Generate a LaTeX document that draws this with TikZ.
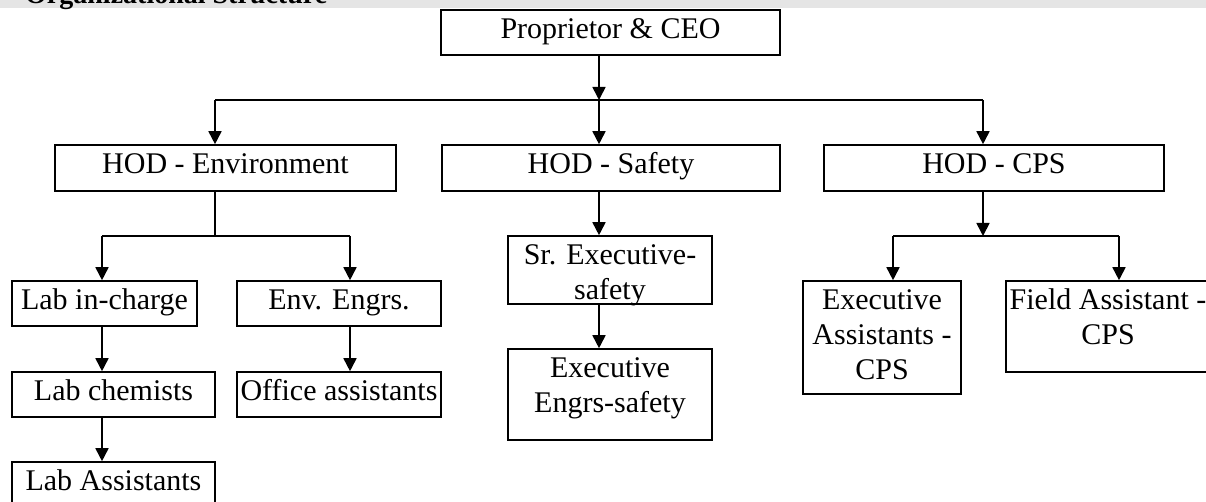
\documentclass[tikz,border=0pt]{standalone}
\usepackage{fontspec}
\setmainfont{Liberation Serif}
\usetikzlibrary{arrows.meta}
\newcommand\stacked[1]{\begin{tabular}[t]{@{}c@{}}#1\end{tabular}}
\begin{document}
\begin{tikzpicture}[x=1pt,y=-1pt,
  font=\fontsize{30}{35}\selectfont,
  box/.style={draw,line width=1.6pt,inner sep=0pt,minimum height=#1},
  box/.default=45pt,
  txt/.style={label={[anchor=base,yshift=-29.5pt,inner sep=0pt]north:\stacked{#1}}},
  link/.style={line width=1.7pt},
  arr/.style={link,-{Triangle[length=13pt,width=13pt]}},
  ]
\useasboundingbox (0,0) rectangle (1206,502);
\clip (0,0) rectangle (1206,502);
\fill[black!10] (0,0) rectangle (1206,8.3);
\node[anchor=base west,inner sep=0pt,font=\fontsize{28}{30}\selectfont\bfseries] (title) at (25,3.8) {Organizational Structure};

\node[box,minimum width=339pt,txt={Proprietor \& CEO}] (ceo) at (610.5,32.5) {};
\node[box=46pt,minimum width=341pt,txt={HOD - Environment}] (env) at (225.5,168) {};
\node[box=46pt,minimum width=338pt,txt={HOD - Safety}] (saf) at (611,168) {};
\node[box=46pt,minimum width=340pt,txt={HOD - CPS}] (cps) at (994,168) {};
\node[box,minimum width=185pt,txt={Lab in-charge}] (labinc) at (104.5,303.5) {};
\node[box,minimum width=204pt,txt={Env. Engrs.}] (enveng) at (339,303.5) {};
\node[box,minimum width=203pt,txt={Lab chemists}] (labchem) at (113.5,394.5) {};
\node[box,minimum width=204pt,txt={Office assistants}] (office) at (339,394.5) {};
\node[box=50pt,minimum width=203pt,txt={Lab Assistants}] (labass) at (113.5,487) {};
\node[box=68pt,minimum width=204pt,txt={Sr. Executive-\\safety}] (srexec) at (610,270) {};
\node[box=91pt,minimum width=204pt,txt={Executive\\Engrs-safety}] (exeng) at (610,394.5) {};
\node[box=113pt,minimum width=158pt,txt={Executive\\Assistants -\\CPS}] (exassist) at (882,337.5) {};
\node[box=91pt,minimum width=204pt,txt={Field Assistant -\\CPS}] (field) at (1108,326.5) {};

\coordinate (top) at (599,100);
\coordinate (tl) at (215,100);
\coordinate (tr) at (983,100);
\coordinate (em) at (215,236);
\coordinate (el) at (102,236);
\coordinate (er) at (350,236);
\coordinate (cl) at (893,236);
\coordinate (cr) at (1119,236);

\draw[arr] (ceo.south -| top) -- (top);
\draw[link] (tl) -- (tr);
\draw[arr] (tl) -- (tl |- env.north);
\draw[arr] (top) -- (top |- saf.north);
\draw[arr] (tr) -- (tr |- cps.north);

\draw[link] (em |- env.south) -- (em);
\draw[link] (el) -- (er);
\draw[arr] (el) -- (el |- labinc.north);
\draw[arr] (er) -- (er |- enveng.north);
\draw[arr] (el |- labinc.south) -- (el |- labchem.north);
\draw[arr] (el |- labchem.south) -- (el |- labass.north);
\draw[arr] (er |- enveng.south) -- (er |- office.north);

\draw[arr] (top |- saf.south) -- (top |- srexec.north);
\draw[arr] (top |- srexec.south) -- (top |- exeng.north);

\draw[arr] (tr |- cps.south) -- (tr |- cl);
\draw[link] (cl) -- (cr);
\draw[arr] (cl) -- (cl |- exassist.north);
\draw[arr] (cr) -- (cr |- field.north);
\end{tikzpicture}
\end{document}
